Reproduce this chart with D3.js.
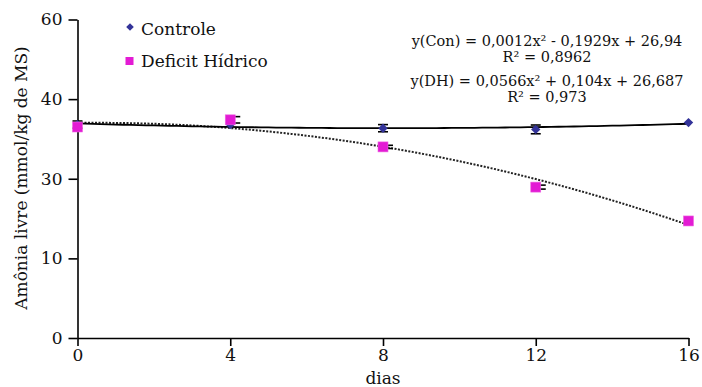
<!DOCTYPE html>
<html>
<head>
<meta charset="utf-8">
<script src="https://cdn.jsdelivr.net/npm/d3@7"></script>
<style>
  body { margin: 0; background: #fff; }
  svg { display: block; }
  text { font-family: "DejaVu Serif", serif; fill: #111; }
</style>
</head>
<body>
<svg id="chart" width="702" height="387"></svg>
<script>
// data
const dias = [0, 4, 8, 12, 16];
const controle = [36.8, 36.8, 36.35, 36.2, 37.05];
const controleErr = [0.45, 0, 0.45, 0.55, 0];
const deficit = [36.5, 37.4, 34.0, 27.9, 19.4];
const deficitErr = [0, 0.4, 0.2, 0.5, 0];
const xTicks = [0, 4, 8, 12, 16];
const yTicks = [0, 10, 30, 40, 60];   // labels as printed, evenly spaced
const equacoes = ["y(Con) = 0,0012x² - 0,1929x + 26,94", "R² = 0,8962",
                  "y(DH) = 0,0566x² + 0,104x + 26,687", "R² = 0,973"];
const legenda = ["Controle", "Deficit Hídrico"];

const svg = d3.select("#chart");
const yBottom = 338, yTop = 19.5;
const step = (yBottom - yTop) / (yTicks.length - 1);

const x = d3.scaleLinear().domain([0, 16]).range([77.5, 688.5]);
const y = d3.scaleLinear().domain(yTicks).range(yTicks.map((d, i) => yBottom - i * step));

// axes
const yAxis = svg.append("g").attr("transform", `translate(${x(0)},0)`)
  .call(d3.axisLeft(y).tickValues(yTicks).tickSize(9).tickSizeOuter(0).tickPadding(6));
const xAxis = svg.append("g").attr("transform", `translate(0,${yBottom})`)
  .call(d3.axisBottom(x).tickValues(xTicks).tickSize(8).tickSizeOuter(0).tickPadding(3));
[yAxis, xAxis].forEach(g => {
  g.selectAll("path, line").attr("stroke", "#000").attr("stroke-width", 1.6);
  g.selectAll("text").style("font-size", "17px").style("font-family", "DejaVu Serif").attr("fill", "#111");
});

svg.append("text").attr("x", x(8)).attr("y", 384).attr("text-anchor", "middle")
  .style("font-size", "17px").text("dias");
svg.append("text").attr("transform", "translate(27,178) rotate(-90)").attr("text-anchor", "middle")
  .style("font-size", "17px").text("Amônia livre (mmol/kg de MS)");

// quadratic least squares fit in plotted position
function fitQuad(xs, ys) {
  let s = [0, 0, 0, 0, 0], t = [0, 0, 0];
  xs.forEach((xv, i) => {
    for (let k = 0; k < 5; k++) s[k] += Math.pow(xv, k);
    for (let k = 0; k < 3; k++) t[k] += Math.pow(xv, k) * ys[i];
  });
  const m = [[s[0], s[1], s[2], t[0]], [s[1], s[2], s[3], t[1]], [s[2], s[3], s[4], t[2]]];
  for (let c = 0; c < 3; c++) {
    for (let r = c + 1; r < 3; r++) {
      const f = m[r][c] / m[c][c];
      for (let k = c; k < 4; k++) m[r][k] -= f * m[c][k];
    }
  }
  const b = [0, 0, 0];
  for (let r = 2; r >= 0; r--) {
    let v = m[r][3];
    for (let k = r + 1; k < 3; k++) v -= m[r][k] * b[k];
    b[r] = v / m[r][r];
  }
  return xv => b[0] + b[1] * xv + b[2] * xv * xv;
}

const curveX = d3.range(0, 16.001, 0.2);
const fitCon = fitQuad(dias, controle.map(y));
const fitDH = fitQuad(dias, deficit.map(y));
const line = d3.line().x(d => x(d[0])).y(d => d[1]);

svg.append("path").datum(curveX.map(d => [d, fitDH(d)])).attr("d", line)
  .attr("fill", "none").attr("stroke", "#222").attr("stroke-width", 2).attr("stroke-dasharray", "2,1.5");
svg.append("path").datum(curveX.map(d => [d, fitCon(d)])).attr("d", line)
  .attr("fill", "none").attr("stroke", "#000").attr("stroke-width", 1.8);

// error bars
function errBars(vals, errs, left, right) {
  const g = svg.append("g").attr("stroke", "#000").attr("stroke-width", 1.6);
  dias.forEach((d, i) => {
    if (!errs[i]) return;
    const cx = x(d), y1 = y(vals[i] + errs[i]), y2 = y(vals[i] - errs[i]);
    g.append("line").attr("x1", cx).attr("x2", cx).attr("y1", y1).attr("y2", y2);
    g.append("line").attr("x1", cx - left).attr("x2", cx + right).attr("y1", y1).attr("y2", y1);
    g.append("line").attr("x1", cx - left).attr("x2", cx + right).attr("y1", y2).attr("y2", y2);
  });
}
errBars(controle, controleErr, 5, 5);
errBars(deficit, deficitErr, 4, 10);

const diamond = r => `M0,${-r}L${r},0L0,${r}L${-r},0Z`;

svg.append("g").selectAll("path").data(dias).join("path")
  .attr("d", diamond(4.7))
  .attr("transform", (d, i) => `translate(${x(d)},${y(controle[i])})`)
  .attr("fill", "#333399");
svg.append("g").selectAll("rect").data(dias).join("rect")
  .attr("x", d => x(d) - 5).attr("y", (d, i) => y(deficit[i]) - 5)
  .attr("width", 10).attr("height", 10)
  .attr("fill", "#e31bd4").attr("stroke", "#ee66e2").attr("stroke-width", 0.6);

// legend
const leg = svg.append("g");
leg.append("path").attr("d", diamond(3.8)).attr("transform", "translate(130,27)").attr("fill", "#333399");
leg.append("rect").attr("x", 125.5).attr("y", 57).attr("width", 8).attr("height", 8).attr("fill", "#e31bd4");
leg.selectAll("text").data(legenda).join("text")
  .attr("x", 141).attr("y", (d, i) => 35 + i * 32)
  .style("font-size", "17px").text(d => d);

// equations
svg.append("g").selectAll("text").data(equacoes).join("text")
  .attr("x", 547).attr("y", (d, i) => [46, 62, 86, 102][i])
  .attr("text-anchor", "middle").style("font-size", "14.5px").text(d => d);
</script>
</body>
</html>
